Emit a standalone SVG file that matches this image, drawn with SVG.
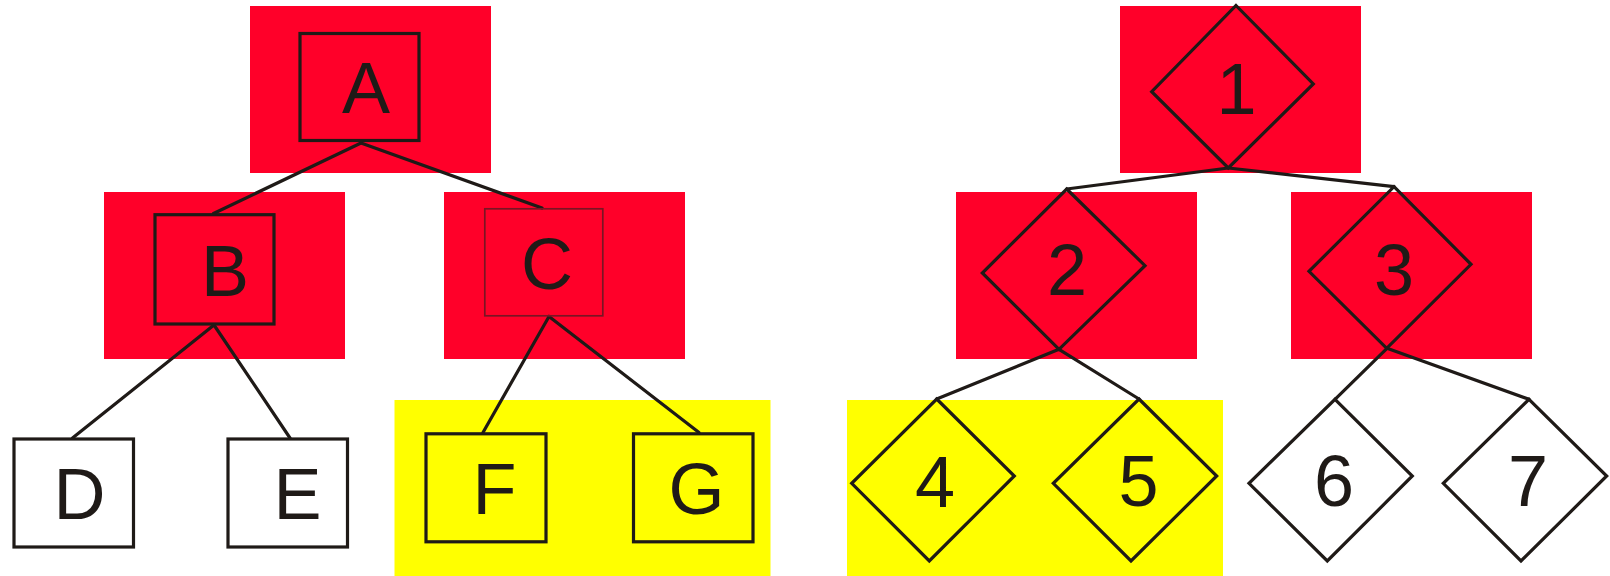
<svg xmlns="http://www.w3.org/2000/svg" width="1610" height="576" viewBox="0 0 1610 576">
  <style>
    .hl-red { fill: #ff0029; }
    .hl-yellow { fill: #ffff00; }
    .edge { stroke: #1f1a17; stroke-width: 3.2; fill: none; stroke-linecap: round; }
    .box { stroke: #1f1a17; stroke-width: 3.2; fill: none; }
    .box.white { fill: #ffffff; }
    .box.thin { stroke: #7a1424; stroke-width: 1.7; }
    .dia { stroke: #1f1a17; stroke-width: 3.2; fill: none; stroke-linejoin: miter; }
    .dia.white { fill: #ffffff; }
    .lbl { font-family: "Liberation Sans", Arial, sans-serif; font-size: 72px; fill: #1f1a17; text-anchor: middle; }
  </style>

  <!-- highlight backgrounds -->
  <g id="highlights">
    <rect class="hl-red" x="250" y="6" width="241" height="167"/>
    <rect class="hl-red" x="104" y="192" width="241" height="167"/>
    <rect class="hl-red" x="444" y="192" width="241" height="167"/>
    <rect class="hl-yellow" x="394.5" y="400" width="376" height="176"/>
    <rect class="hl-red" x="1120" y="6" width="241" height="167"/>
    <rect class="hl-red" x="956" y="192" width="241" height="167"/>
    <rect class="hl-red" x="1291" y="192" width="241" height="167"/>
    <rect class="hl-yellow" x="847" y="400" width="376" height="176"/>
  </g>

  <!-- tree edges -->
  <g id="connectors">
    <line class="edge" x1="361" y1="143" x2="213.5" y2="213.5"/>
    <line class="edge" x1="361" y1="143" x2="542" y2="208"/>
    <line class="edge" x1="214" y1="325" x2="72.5" y2="438"/>
    <line class="edge" x1="214" y1="325" x2="290" y2="438"/>
    <line class="edge" x1="549" y1="316.5" x2="483" y2="432.5"/>
    <line class="edge" x1="549" y1="316.5" x2="699" y2="432.5"/>
    <line class="edge" x1="1228.3" y1="168" x2="1066.7" y2="189"/>
    <line class="edge" x1="1228.3" y1="168" x2="1394" y2="186.7"/>
    <line class="edge" x1="1059" y1="349.3" x2="936.7" y2="399"/>
    <line class="edge" x1="1059" y1="349.3" x2="1139" y2="399"/>
    <line class="edge" x1="1387" y1="348.3" x2="1335" y2="399.3"/>
    <line class="edge" x1="1387" y1="348.3" x2="1529" y2="399.3"/>
  </g>

  <!-- letter tree -->
  <g id="node-A">
    <rect class="box" x="300" y="33.5" width="119" height="107"/>
    <text class="lbl" x="366" y="113">A</text>
  </g>
  <g id="node-B">
    <rect class="box" x="155" y="214.7" width="119" height="109.3"/>
    <text class="lbl" x="225" y="295.5">B</text>
  </g>
  <g id="node-C">
    <rect class="box thin" x="484.8" y="208.8" width="118" height="107"/>
    <text class="lbl" x="547" y="289">C</text>
  </g>
  <g id="node-D">
    <rect class="box white" x="14" y="439" width="119.5" height="108"/>
    <text class="lbl" x="79.5" y="519">D</text>
  </g>
  <g id="node-E">
    <rect class="box white" x="228" y="439" width="119.5" height="108"/>
    <text class="lbl" x="297.5" y="519">E</text>
  </g>
  <g id="node-F">
    <rect class="box" x="426" y="433.8" width="120" height="108"/>
    <text class="lbl" x="494.5" y="514">F</text>
  </g>
  <g id="node-G">
    <rect class="box" x="633.5" y="433.8" width="119.5" height="108"/>
    <text class="lbl" x="696.5" y="514">G</text>
  </g>

  <!-- number tree -->
  <g id="node-1">
    <polygon class="dia" points="1236,5.5 1313.3,84 1228.3,168 1151.7,91.7"/>
    <text class="lbl" x="1236.5" y="114">1</text>
  </g>
  <g id="node-2">
    <polygon class="dia" points="1066.7,189 1145,265.7 1059,349.3 982.3,273"/>
    <text class="lbl" x="1067" y="295">2</text>
  </g>
  <g id="node-3">
    <polygon class="dia" points="1394,186.7 1471,264.3 1386.7,348.3 1309,271.3"/>
    <text class="lbl" x="1394" y="295">3</text>
  </g>
  <g id="node-4">
    <polygon class="dia" points="936.7,399 1014.3,476 929.3,561 851.7,483.3"/>
    <text class="lbl" x="935" y="506.5">4</text>
  </g>
  <g id="node-5">
    <polygon class="dia" points="1139,399 1216.7,476 1131,561 1053.3,483.3"/>
    <text class="lbl" x="1138.5" y="506">5</text>
  </g>
  <g id="node-6">
    <polygon class="dia white" points="1335,399.3 1412.3,476 1327.3,561 1249,483.3"/>
    <text class="lbl" x="1334" y="506">6</text>
  </g>
  <g id="node-7">
    <polygon class="dia white" points="1529,399.3 1606.7,476 1521,561 1443.3,483.3"/>
    <text class="lbl" x="1528" y="506">7</text>
  </g>
</svg>
